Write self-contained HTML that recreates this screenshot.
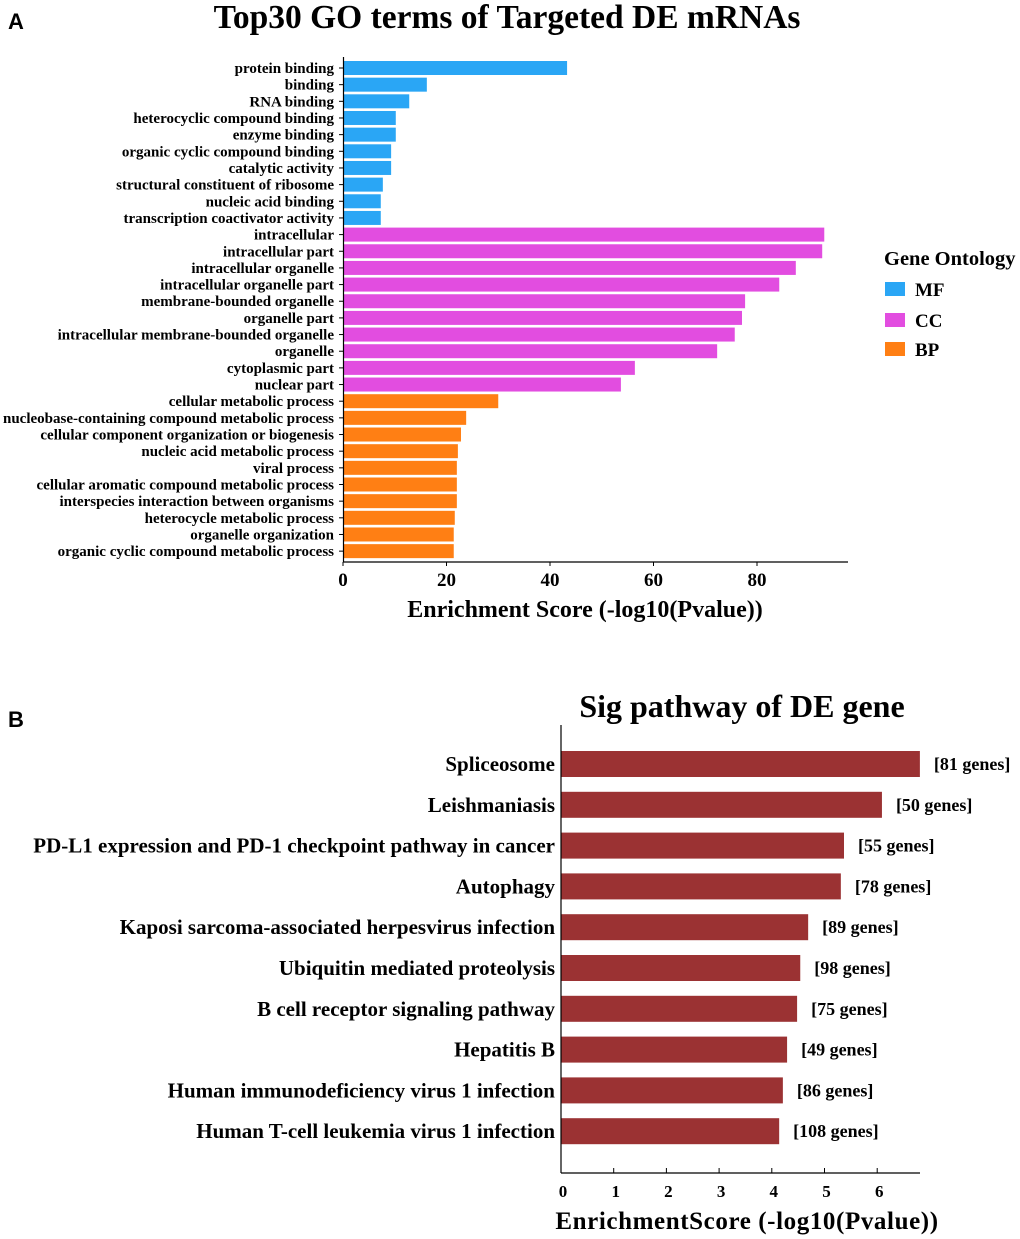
<!DOCTYPE html>
<html><head><meta charset="utf-8"><style>
html,body{margin:0;padding:0;background:#fff;}
svg{display:block;font-family:"Liberation Serif",serif;font-weight:bold;}
</style></head><body>
<svg id="s" width="1020" height="1239" viewBox="0 0 1020 1239" xmlns="http://www.w3.org/2000/svg">
<text x="8" y="29" font-size="22" font-family="Liberation Sans,sans-serif">A</text>
<text x="507" y="28" font-size="33.5" text-anchor="middle">Top30 GO terms of Targeted DE mRNAs</text>
<g id="goBars"></g>
<g id="goAxis"></g>
<text x="585" y="617" font-size="24" text-anchor="middle">Enrichment Score (-log10(Pvalue))</text>
<g>
<text x="884" y="265" font-size="20.5">Gene Ontology</text>
<rect x="885" y="282" width="20" height="14" fill="#2aa6f5"/>
<text x="915" y="296" font-size="19">MF</text>
<rect x="885" y="313" width="20" height="14" fill="#e24de0"/>
<text x="915" y="327" font-size="19">CC</text>
<rect x="885" y="342" width="20" height="14" fill="#ff7f14"/>
<text x="915" y="356" font-size="19">BP</text>
</g>
<text x="8" y="727" font-size="22" font-family="Liberation Sans,sans-serif">B</text>
<text x="742" y="717" font-size="32" text-anchor="middle">Sig pathway of DE gene</text>
<g id="kBars"></g>
<g id="kAxis"></g>
<text x="747" y="1229" font-size="25" text-anchor="middle" letter-spacing="0.6">EnrichmentScore (-log10(Pvalue))</text>
</svg>
<script>
const goTerms=["protein binding","binding","RNA binding","heterocyclic compound binding","enzyme binding","organic cyclic compound binding","catalytic activity","structural constituent of ribosome","nucleic acid binding","transcription coactivator activity","intracellular","intracellular part","intracellular organelle","intracellular organelle part","membrane-bounded organelle","organelle part","intracellular membrane-bounded organelle","organelle","cytoplasmic part","nuclear part","cellular metabolic process","nucleobase-containing compound metabolic process","cellular component organization or biogenesis","nucleic acid metabolic process","viral process","cellular aromatic compound metabolic process","interspecies interaction between organisms","heterocycle metabolic process","organelle organization","organic cyclic compound metabolic process"];
const goValues=[43.3,16.2,12.8,10.2,10.2,9.3,9.3,7.7,7.3,7.3,93,92.6,87.5,84.3,77.7,77.1,75.7,72.3,56.4,53.7,30,23.8,22.8,22.2,22,22,22,21.6,21.4,21.4];
const goCats=["MF","MF","MF","MF","MF","MF","MF","MF","MF","MF","CC","CC","CC","CC","CC","CC","CC","CC","CC","CC","BP","BP","BP","BP","BP","BP","BP","BP","BP","BP"];
const goTicks=[0,20,40,60,80];
const kTerms=["Spliceosome","Leishmaniasis","PD-L1 expression and PD-1 checkpoint pathway in cancer","Autophagy","Kaposi sarcoma-associated herpesvirus infection","Ubiquitin mediated proteolysis","B cell receptor signaling pathway","Hepatitis B","Human immunodeficiency virus 1 infection","Human T-cell leukemia virus 1 infection"];
const kValues=[6.81,6.09,5.37,5.31,4.69,4.54,4.48,4.29,4.21,4.14];
const kGenes=[81,50,55,78,89,98,75,49,86,108];
const kTicks=[0,1,2,3,4,5,6];
const NS="http://www.w3.org/2000/svg";
const colors={MF:"#2aa6f5",CC:"#e24de0",BP:"#ff7f14"};
function mk(t,a,p,txt){const e=document.createElementNS(NS,t);for(const k in a)e.setAttribute(k,a[k]);if(txt!==undefined)e.textContent=txt;p.appendChild(e);return e;}
const gx=v=>343+v*5.175, gy=i=>68+i*16.66;
const gb=document.getElementById('goBars'), ga=document.getElementById('goAxis');
goTerms.forEach((t,i)=>{
 const r=mk('rect',{x:gx(0),y:gy(i)-7,width:gx(goValues[i])-gx(0),height:14,fill:colors[goCats[i]]},gb);
 
 
 const l=mk('text',{x:334,y:gy(i)+5,'font-size':15,'text-anchor':'end'},gb,t);
 
 
 mk('line',{x1:339,x2:343,y1:gy(i),y2:gy(i),stroke:'#000','stroke-width':1},gb);
});
mk('line',{x1:343.5,x2:343.5,y1:57,y2:562,stroke:'#000','stroke-width':1.2},ga);
mk('line',{x1:343,x2:848,y1:562,y2:562,stroke:'#000','stroke-width':1.2},ga);
goTicks.forEach(v=>{
 mk('line',{x1:gx(v),x2:gx(v),y1:562,y2:566,stroke:'#000'},ga);
 const t=mk('text',{x:gx(v),y:586,'font-size':19,'text-anchor':'middle'},ga,v);
 
 
});
const kx=v=>561+v*52.7, ky=i=>764+i*40.8;
const kb=document.getElementById('kBars'), ka=document.getElementById('kAxis');
kTerms.forEach((t,i)=>{
 const r=mk('rect',{x:kx(0),y:ky(i)-13,width:kx(kValues[i])-kx(0),height:26,fill:'#9b3233'},kb);
 
 
 const l=mk('text',{x:555,y:ky(i)+7,'font-size':21,'text-anchor':'end'},kb,t);
 
 
 const g=mk('text',{x:kx(kValues[i])+14,y:ky(i)+6,'font-size':18},kb,'['+kGenes[i]+' genes]');
 
 
});
mk('line',{x1:561,x2:561,y1:725,y2:1173,stroke:'#000','stroke-width':1.2},ka);
mk('line',{x1:561,x2:920,y1:1173,y2:1173,stroke:'#000','stroke-width':1.2},ka);
kTicks.forEach(v=>{
 mk('line',{x1:kx(v),x2:kx(v),y1:1168,y2:1173,stroke:'#000'},ka);
 const t=mk('text',{x:kx(v)+2,y:1197,'font-size':17,'text-anchor':'middle'},ka,v);
 
 
});
</script>
</body></html>
